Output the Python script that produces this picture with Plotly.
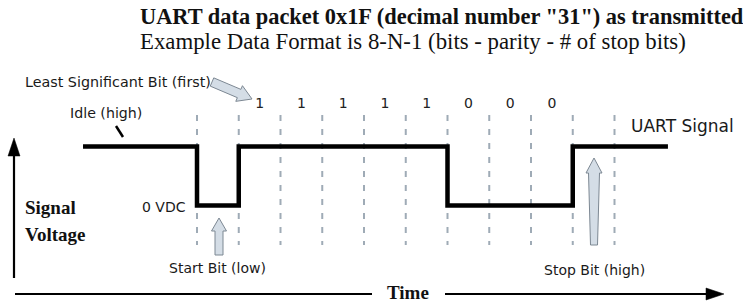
import numpy as np
import plotly.graph_objects as go

# ---------------- data ----------------
data_bits = [1, 1, 1, 1, 1, 0, 0, 0]          # 0x1F sent LSB first
start_bit = [0]
stop_bit = [1]
idle_before = 2.73                              # idle periods shown (bit times)
idle_after = 1.28
bit_labels = [str(b) for b in data_bits]

title_text = 'UART data packet 0x1F (decimal number "31") as transmitted through a serial port'
subtitle_text = "Example Data Format is 8-N-1 (bits - parity - # of stop bits)"

# ---------------- geometry ----------------
W, H = 743, 304
X0, BW = 197.0, 41.75          # pixel of first edge, pixels per bit
Y1P, Y0P = 146.5, 205.5        # pixel of high / low level


def X(px):
    return (px - X0) / BW


def Y(py):
    return (Y0P - py) / (Y0P - Y1P)


frame_bits = start_bit + data_bits + stop_bit
n = len(frame_bits)
xs = [-idle_before] + list(range(n)) + [n, n + idle_after]
ys = [1] + frame_bits + [1, 1]

fig = go.Figure()

fig.add_trace(go.Scatter(
    x=xs, y=ys, mode="lines",
    line=dict(color="black", width=4.5, shape="hv"),
    hoverinfo="skip", showlegend=False))

fig.add_trace(go.Scatter(
    x=[i + 1.5 for i in range(len(data_bits))], y=[Y(104)] * len(data_bits),
    mode="text", text=bit_labels,
    textfont=dict(family="DejaVu Sans", size=14, color="#222"),
    hoverinfo="skip", showlegend=False))

shapes = []
# dashed bit boundaries
for k in range(n + 1):
    shapes.append(dict(type="line", xref="x", yref="y", x0=k, x1=k,
                       y0=Y(115), y1=Y(245), layer="below",
                       line=dict(color="#9fabb6", width=2, dash="6px,8px")))


def path_from_pixels(pts):
    s = "M " + " L ".join(f"{X(p[0]):.5f},{Y(p[1]):.5f}" for p in pts) + " Z"
    return s


def block_arrow(tail, tip, hw_tail, hw_shaft, hh, hl):
    tail = np.array(tail, float)
    tip = np.array(tip, float)
    u = tip - tail
    u /= np.linalg.norm(u)
    v = np.array([-u[1], u[0]])
    hb = tip - u * hl
    pts = [tail + v * hw_tail, hb + v * hw_shaft, hb + v * hh, tip,
           hb - v * hh, hb - v * hw_shaft, tail - v * hw_tail]
    return pts


arrow_style = dict(fillcolor="#d4dde6", line=dict(color="#7d8893", width=1))
for tail, tip, hwt, hws, hh, hl in [
    ((212, 82), (252, 99), 4.5, 4.5, 8.5, 14),
    ((219, 255), (219, 218), 4, 4, 7.5, 13),
    ((594, 245), (594, 158), 3.5, 5.5, 8, 15),
]:
    shapes.append(dict(type="path", xref="x", yref="y",
                       path=path_from_pixels(block_arrow(tail, tip, hwt, hws, hh, hl)),
                       **arrow_style))

# axis arrows
axis_line = dict(color="black", width=2.2)
shapes.append(dict(type="line", xref="x", yref="y", x0=X(14), x1=X(14),
                   y0=Y(278), y1=Y(152), line=axis_line))
shapes.append(dict(type="path", xref="x", yref="y",
                   path=path_from_pixels([(8, 156), (14, 138), (20, 156)]),
                   fillcolor="black", line=dict(color="black", width=0.5)))
shapes.append(dict(type="line", xref="x", yref="y", x0=X(15), x1=X(372),
                   y0=Y(294), y1=Y(294), line=axis_line))
shapes.append(dict(type="line", xref="x", yref="y", x0=X(445), x1=X(710),
                   y0=Y(294), y1=Y(294), line=axis_line))
shapes.append(dict(type="path", xref="x", yref="y",
                   path=path_from_pixels([(706, 288), (724, 294), (706, 300)]),
                   fillcolor="black", line=dict(color="black", width=0.5)))
# idle pointer tick
shapes.append(dict(type="line", xref="x", yref="y", x0=X(116), x1=X(123),
                   y0=Y(126), y1=Y(137), line=dict(color="black", width=2.5)))

annotations = []


def text(s, px, py, size, family="DejaVu Sans", anchor="left", bold=False, color="#1a1a1a"):
    annotations.append(dict(
        text=f"<b>{s}</b>" if bold else s, xref="paper", yref="paper",
        x=px / W, y=1 - py / H, xanchor=anchor, yanchor="middle",
        showarrow=False, font=dict(family=family, size=size, color=color)))


serif = "Liberation Serif"
text(title_text, 138, 16.7, 22.4, family=serif, bold=True, color="#111")
text(subtitle_text, 138, 41.5, 22.8, family=serif, color="#111")
text("Least Significant Bit (first)", 23, 82, 14.3)
text("Idle (high)", 68, 113, 14.2)
text("UART Signal", 629, 126, 17)
text("0 VDC", 140, 207, 14)
text("Signal", 23, 207, 19, family=serif, bold=True, color="#111")
text("Voltage", 23, 234, 19, family=serif, bold=True, color="#111")
text("Start Bit (low)", 218, 268, 14, anchor="center")
text("Stop Bit (high)", 594, 270, 14, anchor="center")
text("Time", 408, 292, 19, family=serif, bold=True, anchor="center", color="#111")

fig.update_layout(
    width=W, height=H,
    margin=dict(l=0, r=0, t=0, b=0, pad=0),
    paper_bgcolor="white", plot_bgcolor="white",
    xaxis=dict(range=[X(0), X(W)], visible=False, fixedrange=True),
    yaxis=dict(range=[Y(H), Y(0)], visible=False, fixedrange=True),
    shapes=shapes, annotations=annotations, showlegend=False)

fig.write_html("out.html", config={"displayModeBar": False})

# remove the browser's default page margin so the figure sits at (0, 0)
with open("out.html", encoding="utf-8") as f:
    html = f.read()
html = html.replace("<head>", "<head><style>html,body{margin:0;padding:0;overflow:hidden;}</style>", 1)
with open("out.html", "w", encoding="utf-8") as f:
    f.write(html)
